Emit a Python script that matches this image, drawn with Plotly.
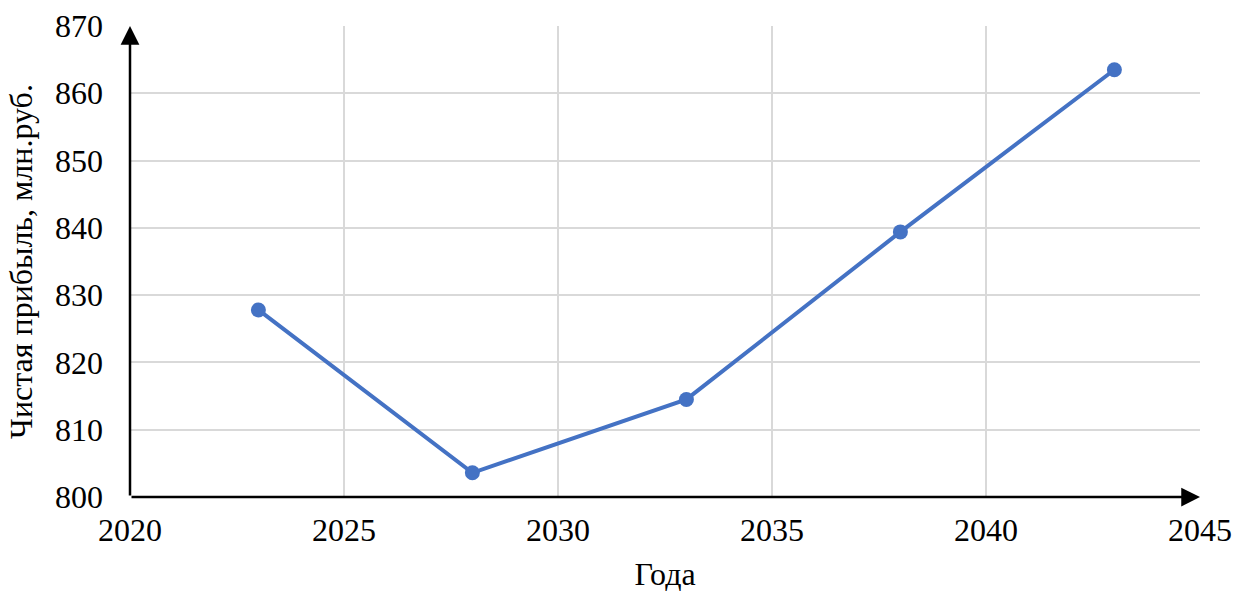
import plotly.graph_objects as go

years = [2023, 2028, 2033, 2038, 2043]
profit = [827.8, 803.6, 814.5, 839.4, 863.5]

x_ticks = [2020, 2025, 2030, 2035, 2040, 2045]
y_ticks = [800, 810, 820, 830, 840, 850, 860, 870]

serif = "Liberation Serif, Times New Roman, serif"
tick_font = dict(family=serif, size=32, color="black")

fig = go.Figure()
fig.add_trace(go.Scatter(
    x=years, y=profit, mode="lines+markers",
    line=dict(color="#4472C4", width=4),
    marker=dict(color="#4472C4", size=15),
    showlegend=False,
))

# axis arrows
fig.add_annotation(x=2045, y=800, ax=2020, ay=800, xref="x", yref="y", axref="x", ayref="y",
                   showarrow=True, arrowhead=2, arrowsize=1.5, arrowwidth=2.5, arrowcolor="black", text="")
fig.add_annotation(x=2020, y=870, ax=2020, ay=800, xref="x", yref="y", axref="x", ayref="y",
                   showarrow=True, arrowhead=2, arrowsize=1.5, arrowwidth=2.5, arrowcolor="black", text="")

fig.update_layout(
    width=1234, height=592,
    margin=dict(l=130, r=34, t=26, b=95),
    paper_bgcolor="white", plot_bgcolor="white",
    font=dict(family=serif, size=32, color="black"),
    xaxis=dict(
        range=[2020, 2045], tickvals=x_ticks, ticktext=[str(v) for v in x_ticks],
        showgrid=True, gridcolor="#d9d9d9", gridwidth=1.5, zeroline=False,
        showline=False, ticks="", ticklabelstandoff=11, tickfont=tick_font,
        automargin=False,
        title=dict(text="Года", font=dict(family=serif, size=32), standoff=18),
    ),
    yaxis=dict(
        range=[800, 870], tickvals=y_ticks, ticktext=[str(v) for v in y_ticks],
        showgrid=True, gridcolor="#d9d9d9", gridwidth=1.5, zeroline=False,
        showline=False, ticks="", ticklabelstandoff=26, tickfont=tick_font,
        automargin=False,
        title=dict(text="Чистая прибыль, млн.руб.", font=dict(family=serif, size=32), standoff=12),
    ),
)

fig.write_html("out.html")
